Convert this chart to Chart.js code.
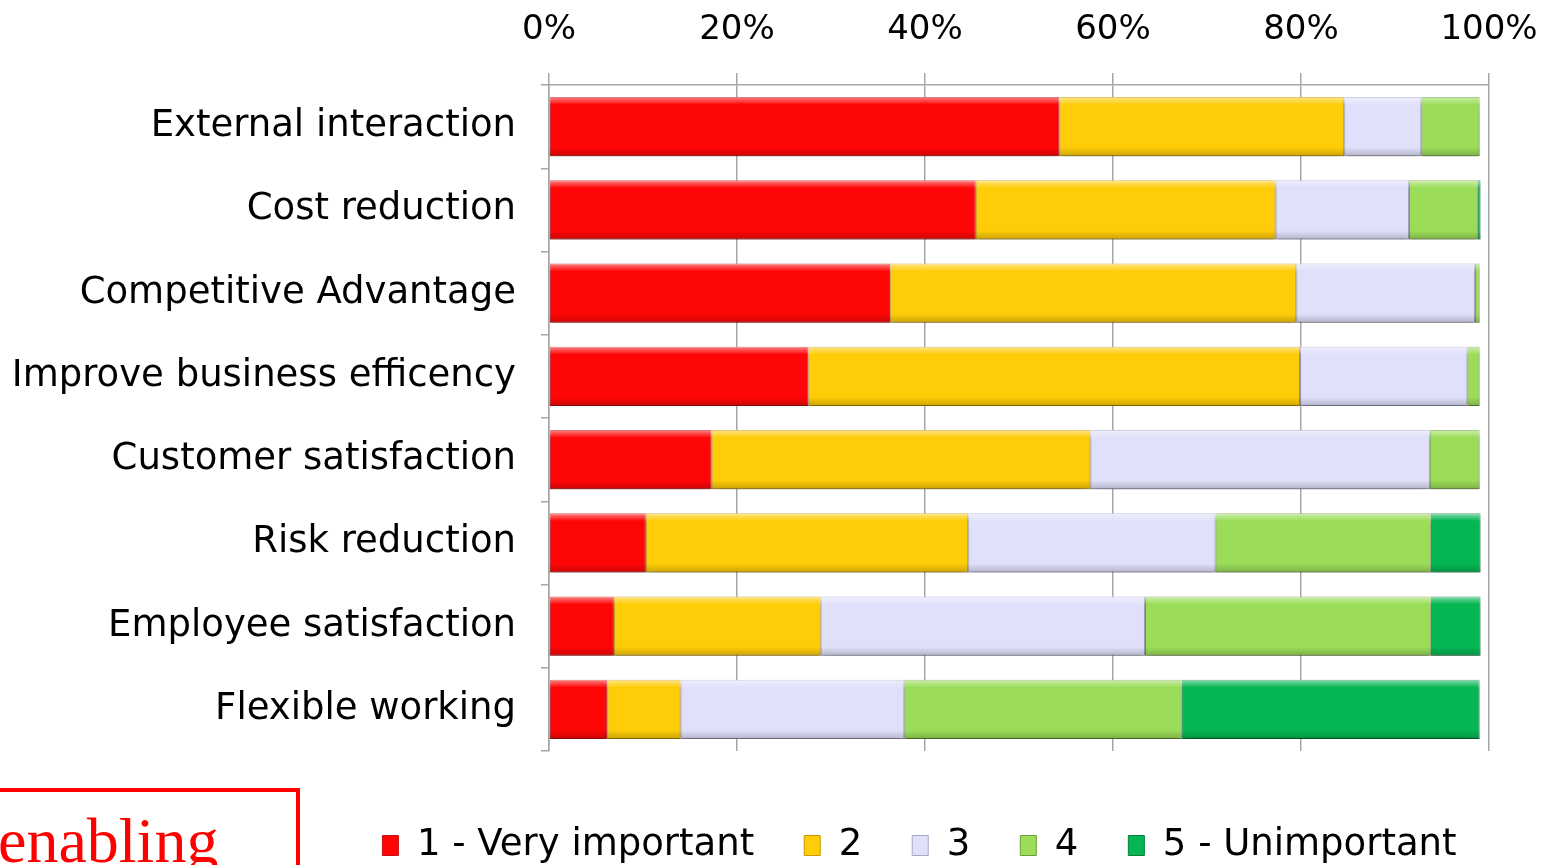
<!DOCTYPE html>
<html>
<head>
<meta charset="utf-8">
<script src="https://cdn.jsdelivr.net/npm/chart.js@4/dist/chart.umd.min.js"></script>
<style>
  body { margin: 0; background: #fff; overflow: hidden; }
  #wrap { position: absolute; left: 0; top: 0; width: 1556px; height: 865px; }
  #note {
    position: absolute; left: -20px; top: 788px; width: 320px; height: 120px;
    border: 4px solid #ff0000; box-sizing: border-box;
    font-family: "Liberation Serif", serif; font-size: 64px; color: #ff0000;
  }
  #note span { position: absolute; left: 14px; top: 12px; }
</style>
</head>
<body>
<div id="wrap"><canvas id="myChart"></canvas></div>
<div id="note"><span>enabling</span></div>
<script>
const categories = [
  "External interaction",
  "Cost reduction",
  "Competitive Advantage",
  "Improve business efficency",
  "Customer satisfaction",
  "Risk reduction",
  "Employee satisfaction",
  "Flexible working"
];

const veryImportant = [54.3, 45.4, 36.3, 27.6, 17.3, 10.3, 6.9, 6.2];
const level2 = [30.3, 31.9, 43.2, 52.3, 40.3, 34.3, 22.0, 7.8];
const level3 = [8.2, 14.2, 19.0, 17.8, 36.1, 26.3, 34.5, 23.8];
const level4 = [6.2, 7.3, 0.5, 1.3, 5.3, 22.9, 30.4, 29.5];
const unimportant = [0, 0.3, 0, 0, 0, 5.3, 5.3, 31.7];

const seriesNames = ["1 - Very important", "2", "3", "4", "5 - Unimportant"];
const fills = ["#ff0606", "#ffcc08", "#e0e0fa", "#9bdd58", "#05b653"];
const edges = ["#c81010", "#c89a00", "#a8a8c8", "#6c9e3a", "#00803a"];

const fontFamily = "'DejaVu Sans', Verdana, sans-serif";

// soft shadow under the bars, then a bevel-ish highlight on top of them
const barLook = {
  id: "barLook",
  beforeDatasetsDraw(chart) {
    const ctx = chart.ctx;
    ctx.save();
    ctx.shadowColor = "rgba(0,0,0,0.28)";
    ctx.shadowBlur = 7;
    ctx.shadowOffsetY = 5;
  },
  afterDatasetsDraw(chart) {
    const ctx = chart.ctx;
    ctx.restore();
    ctx.save();
    chart.data.datasets.forEach((ds, i) => {
      chart.getDatasetMeta(i).data.forEach(bar => {
        const left = Math.min(bar.x, bar.base);
        const w = Math.abs(bar.x - bar.base);
        if (w < 1) return;
        const top = bar.y - bar.height / 2;
        const g = ctx.createLinearGradient(0, top, 0, top + bar.height);
        g.addColorStop(0, "rgba(255,255,255,0.5)");
        g.addColorStop(0.13, "rgba(255,255,255,0.0)");
        g.addColorStop(0.85, "rgba(0,0,0,0.0)");
        g.addColorStop(1, "rgba(0,0,0,0.2)");
        ctx.fillStyle = g;
        ctx.fillRect(left, top, w, bar.height);
      });
    });
    ctx.restore();
  }
};

// nudge the legend into the same spot as the original
const legendShift = {
  id: "legendShift",
  afterLayout(chart) {
    const lg = chart.legend;
    lg.left += 175; lg.right += 175;
    lg.top += 26; lg.bottom += 26;
  }
};

const ctx = document.getElementById("myChart").getContext("2d");

const myBarChart = new Chart(ctx, {
  type: "bar",
  data: {
    labels: categories,
    datasets: [veryImportant, level2, level3, level4, unimportant].map((vals, i) => ({
      label: seriesNames[i],
      data: vals,
      backgroundColor: fills[i],
      borderColor: edges[i],
      borderWidth: 1,
      borderSkipped: false,
      barPercentage: 0.71,
      categoryPercentage: 1
    }))
  },
  options: {
    indexAxis: "y",
    responsive: true,
    maintainAspectRatio: false,
    animation: false,
    layout: { padding: { left: 0, right: 67, top: 0, bottom: 17 } },
    scales: {
      x: {
        position: "top",
        stacked: true,
        min: 0,
        max: 100,
        ticks: {
          stepSize: 20,
          padding: 22,
          color: "#000",
          font: { family: fontFamily, size: 34 },
          callback: v => v + "%"
        },
        grid: { color: "#a6a6a6", lineWidth: 1.5, tickLength: 12 },
        border: { color: "#a6a6a6", width: 1.5 },
        afterFit(scale) {
          scale.height = 85;
          scale.paddingLeft = 0;
          scale.paddingRight = 0;
        }
      },
      y: {
        stacked: true,
        ticks: {
          padding: 25,
          color: "#000",
          font: { family: fontFamily, size: 37 }
        },
        grid: { drawOnChartArea: false, color: "#a6a6a6", lineWidth: 1.5, tickLength: 8 },
        border: { color: "#a6a6a6", width: 1.5 },
        afterFit(scale) { scale.width = 549; }
      }
    },
    plugins: {
      legend: {
        position: "bottom",
        labels: {
          color: "#000",
          boxWidth: 16,
          boxHeight: 20,
          padding: 50,
          font: { family: fontFamily, size: 37 }
        }
      },
      tooltip: { enabled: false }
    }
  },
  plugins: [barLook, legendShift]
});
</script>
</body>
</html>
